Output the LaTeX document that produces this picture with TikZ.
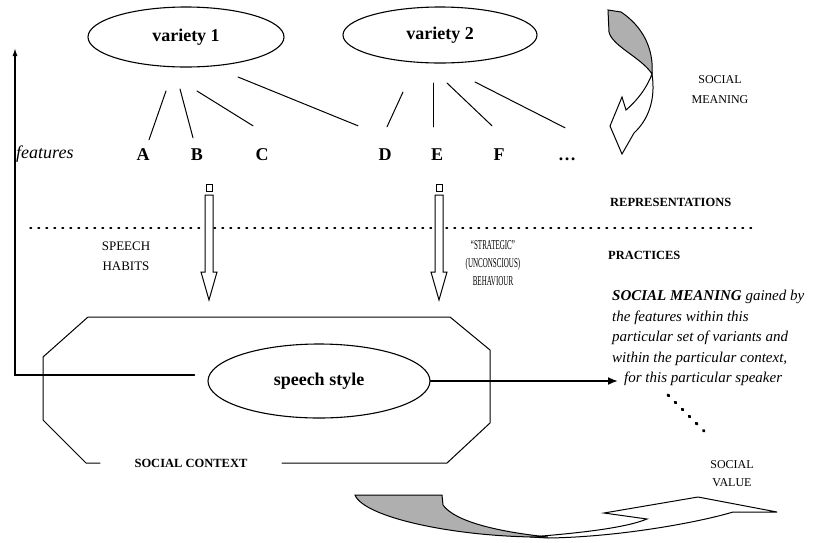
\documentclass[tikz,border=0pt]{standalone}
\usepackage{fontspec}
\setmainfont{Liberation Serif}
\newfontfamily\narrowfont[FakeStretch=0.52]{Liberation Serif}
\usetikzlibrary{shapes.geometric,arrows.meta}

\begin{document}
\begin{tikzpicture}[x=1pt,y=-1pt,line cap=round,
  oval/.style={ellipse,draw,line width=1.1pt,inner sep=0,font=\fontsize{18pt}{20pt}\selectfont\bfseries},
  feat/.style={inner sep=0,text height=13pt,text depth=0pt,font=\fontsize{18pt}{20pt}\selectfont\bfseries},
  link/.style={line width=1pt},
  caps/.style={inner sep=0,align=center,font=\fontsize{12pt}{19pt}\selectfont},
  bcaps/.style={caps,font=\fontsize{12.5pt}{15pt}\selectfont\bfseries},
  downarrow/.pic={
    \draw[line width=0.8pt] (-3,0) rectangle (3,7);
    \draw[line width=1pt,fill=white] (-4,11) -- (-4,88) -- (-8,88) -- (0,116) -- (8,88) -- (4,88) -- (4,11) -- cycle;
  }]
\useasboundingbox (0,0) rectangle (827,542);
\definecolor{shade}{RGB}{175,175,175}
% varieties and their features
\node[oval,minimum width=196pt,minimum height=60pt] (v1) at (186,37) {variety 1};
\node[oval,minimum width=194pt,minimum height=56pt] (v2) at (440,35) {variety 2};
\foreach \n/\t/\x in {A/A/143,B/B/197,C/C/262,D/D/385,E/E/437,F/F/499,more/\dots/567}
  \node[feat] (\n) at (\x,154) {\t};
\foreach \v/\f/\sx/\sy/\ex/\ey in {v1/A/-20/54/6/-7.5,v1/B/-6/52/-4/-9.5,v1/C/11/54/-9/-21.5,v1/D/52/40/-27/-21.5,
    v2/D/-37/57/2/-20.5,v2/E/-7/48/-4/-20.5,v2/F/7/48/-7/-21.5,v2/more/35/47/-2/-19.5}
  \draw[link] ([shift={(\sx,\sy)}]\v.center) -- ([shift={(\ex,\ey)}]\f.north);
\node[inner sep=0,anchor=west,font=\fontsize{18pt}{20pt}\selectfont\itshape] (features) at (16,154) {features};

% social meaning arrow
\filldraw[line width=1pt,fill=shade] (608,10) -- (621,12) .. controls (642,26) and (654,48) .. (652,74) .. controls (642,58) and (612,46) .. (609,32) -- cycle;
\filldraw[line width=1pt,fill=white] (652,74) .. controls (645,92) and (634,103) .. (626,110) -- (622,97) -- (610,126) -- (622,154) -- (634,133) .. controls (648,120) and (656,100) .. (652,74) -- cycle;
\node[caps,font=\fontsize{12pt}{20pt}\selectfont] (meaning) at (720,90) {SOCIAL\\MEANING};

\node[bcaps,anchor=west] (repr) at (610,202) {REPRESENTATIONS};
\node[bcaps,anchor=west] (pract) at (608,255) {PRACTICES};
\draw[line width=1.4pt,dash pattern=on 1.5pt off 6.5pt] (30,228) -- (757,228);
\pic at (209,184) {downarrow};
\pic at (439,184) {downarrow};
\node[caps,font=\fontsize{13pt}{20pt}\selectfont] (habits) at (126,256) {SPEECH\\HABITS};
\node[caps,font=\narrowfont\fontsize{13.5pt}{18pt}\selectfont] (strategic) at (493,263) {\textquotedblleft STRATEGIC\textquotedblright\\(UNCONSCIOUS)\\BEHAVIOUR};

% social context
\draw[line width=1pt] (282,463) -- (447,463) -- (490,423) -- (490,350) -- (450,317) -- (88,317) -- (43,357) -- (43,420) -- (86,463) -- (100,463);
\node[bcaps] (context) at (191,463) {SOCIAL CONTEXT};
\node[oval,minimum width=222pt,minimum height=74pt] (speech) at (319,381) {speech style};
\coordinate (ltip) at (15,48);
\draw[line width=1.4pt,-{Latex[length=8pt,width=5pt]}] ([shift={(-13,-6)}]speech.west) -| (ltip);
\coordinate (mtip) at (618,381);
\draw[line width=1.8pt,-{Latex[length=10pt,width=8pt]}] (speech) -- (mtip);
\node[anchor=west,inner sep=0,align=left,font=\fontsize{15pt}{20.5pt}\selectfont\itshape] (gained) at (612,338)
  {\textbf{SOCIAL MEANING} gained by\\the features within this\\particular set of variants and\\within the particular context,\\\hspace*{12pt}for this particular speaker};
\draw[line width=3pt,dash pattern=on 1pt off 9pt] (668,395) -- (710,437);
\node[caps,font=\fontsize{12pt}{18pt}\selectfont] (value) at (732,474) {SOCIAL\\VALUE};

% social value arrow
\filldraw[line width=1pt,fill=white] (530,537) .. controls (580,533) and (625,528) .. (647,519) -- (604,513) -- (698,497) -- (777,512) -- (733,512) .. controls (700,522) and (620,537) .. (548,538) -- cycle;
\filldraw[line width=1pt,fill=shade] (355,495) -- (442,495) -- (443,505) .. controls (455,522) and (500,532) .. (548,537) .. controls (460,538) and (364,518) .. (355,495) -- cycle;
\end{tikzpicture}
\end{document}
